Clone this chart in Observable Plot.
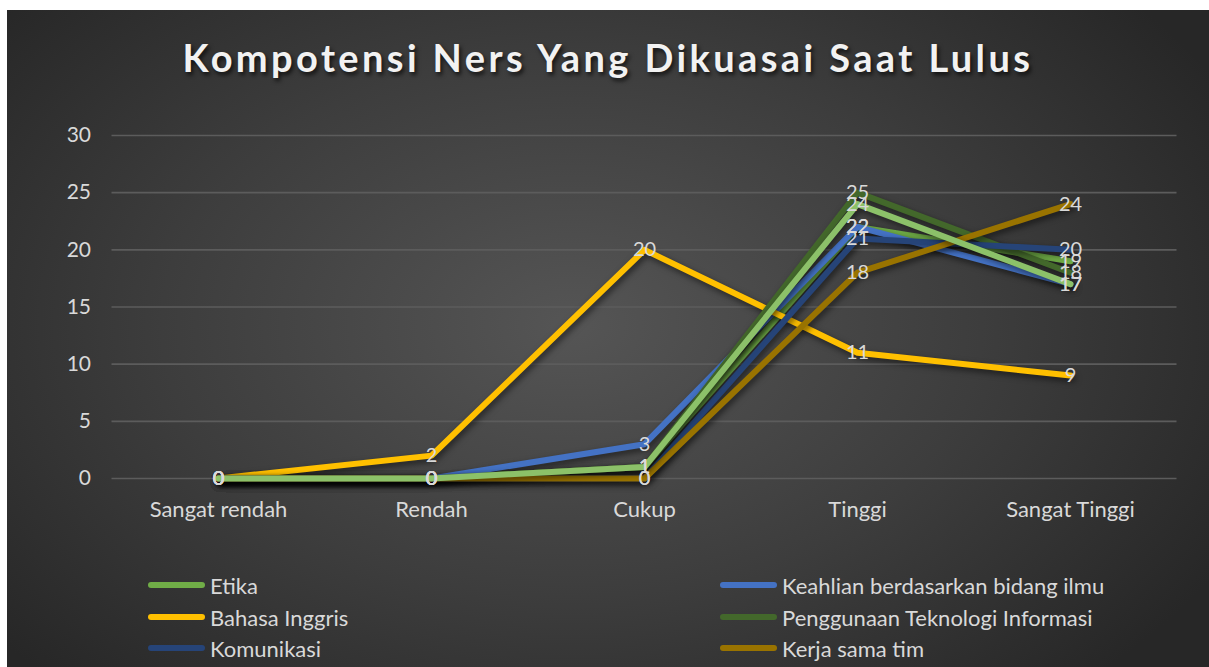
<!DOCTYPE html>
<html><head><meta charset="utf-8">
<script src="https://cdn.jsdelivr.net/npm/d3@7"></script>
<script src="https://cdn.jsdelivr.net/npm/@observablehq/plot@0.6"></script>
<style>
html,body{margin:0;padding:0;background:#fff;overflow:hidden;width:1209px;height:667px}
#card{position:absolute;left:7px;top:10px;width:1202px;height:657px;
 background:radial-gradient(ellipse 62% 75% at 47% 48%, #555555 0%, #3d3d3d 55%, #272727 100%);
 font-family:Lato,"Open Sans",sans-serif;overflow:hidden}
#title{position:absolute;left:0;top:0;width:100%;height:94px;line-height:94px;text-align:center;
 color:#f2f2f2;font-weight:bold;font-size:38px;letter-spacing:3.4px;text-shadow:2px 3px 4px rgba(0,0,0,0.7)}
#chart{position:absolute;left:0;top:100px}
#legend{position:absolute;left:0;top:0;width:100%;height:100%;pointer-events:none}
.item{position:absolute;height:24px;display:flex;align-items:center;color:#d9d9d9;font-size:22px;white-space:nowrap}
.sw{width:57px;height:6px;border-radius:3px;margin-right:5px}
</style></head>
<body>
<div id="card">
  <div id="title">Kompotensi Ners Yang Dikuasai Saat Lulus</div>
  <div id="chart"></div>
  <div id="legend"></div>
</div>
<script>
const categories = ["Sangat rendah", "Rendah", "Cukup", "Tinggi", "Sangat Tinggi"];
const seriesNames = ["Etika", "Keahlian berdasarkan bidang ilmu", "Bahasa Inggris", "Penggunaan Teknologi Informasi", "Komunikasi", "Kerja sama tim", "Kepemimpinan"];
const seriesColors = ["#70AD47", "#4472C4", "#FFC000", "#43682B", "#264478", "#997300", "#8CC169"];
const etika = [0, 0, 1, 22, 19];
const keahlian = [0, 0, 3, 22, 17];
const bahasaInggris = [0, 2, 20, 11, 9];
const teknologiInformasi = [0, 0, 1, 25, 18];
const komunikasi = [0, 0, 0, 21, 20];
const kerjaSamaTim = [0, 0, 0, 18, 24];
const kepemimpinan = [0, 0, 1, 24, 17];
const yTicks = [0, 5, 10, 15, 20, 25, 30];
const visibleLegendCount = 6;

const allValues = [etika, keahlian, bahasaInggris, teknologiInformasi, komunikasi, kerjaSamaTim, kepemimpinan];
const data = [];
allValues.forEach((vals, i) => vals.forEach((v, j) => data.push({series: seriesNames[i], cat: categories[j], value: v})));

const chart = Plot.plot({
  width: 1202,
  height: 440,
  marginLeft: 104.5,
  marginRight: 32.5,
  marginTop: 25,
  marginBottom: 72,
  style: {background: "transparent", color: "#d9d9d9", fontFamily: "Lato, 'Open Sans', sans-serif", fontSize: "19px"},
  x: {domain: categories, type: "point", padding: 0.5, label: null},
  y: {domain: [0, 30], label: null},
  color: {domain: seriesNames, range: seriesColors},
  marks: [
    Plot.ruleY(yTicks, {stroke: "#5c5c5c", strokeWidth: 1.6}),
    Plot.axisX({tickSize: 0, tickPadding: 23, fontSize: 22, fill: "#d9d9d9", label: null}),
    Plot.axisY({ticks: yTicks, tickSize: 0, tickPadding: 21, fontSize: 21, fill: "#d9d9d9", label: null}),
    Plot.line(data, {x: "cat", y: "value", z: "series", stroke: "series", strokeWidth: 6, strokeLinecap: "round", strokeLinejoin: "round"}),
    Plot.text(data, {x: "cat", y: "value", text: d => String(d.value), fill: "#d9d9d9", fontSize: 20, textAnchor: "middle", lineAnchor: "middle"})
  ]
});
document.getElementById("chart").appendChild(chart);
chart.querySelectorAll('g[aria-label="line"] path').forEach(p => p.style.filter = "drop-shadow(2px 3px 3px rgba(0,0,0,0.55))");

const legend = document.getElementById("legend");
const rowsY = [575, 607, 638];
seriesNames.slice(0, visibleLegendCount).forEach((name, i) => {
  const col = i % 2, row = Math.floor(i / 2);
  const el = document.createElement("div");
  el.className = "item";
  el.style.left = (col === 0 ? 141 : 713) + "px";
  el.style.top = (rowsY[row] - 12) + "px";
  el.innerHTML = `<span class="sw" style="background:${seriesColors[i]}"></span><span></span>`;
  el.lastChild.textContent = name;
  legend.appendChild(el);
});
</script>
</body></html>
